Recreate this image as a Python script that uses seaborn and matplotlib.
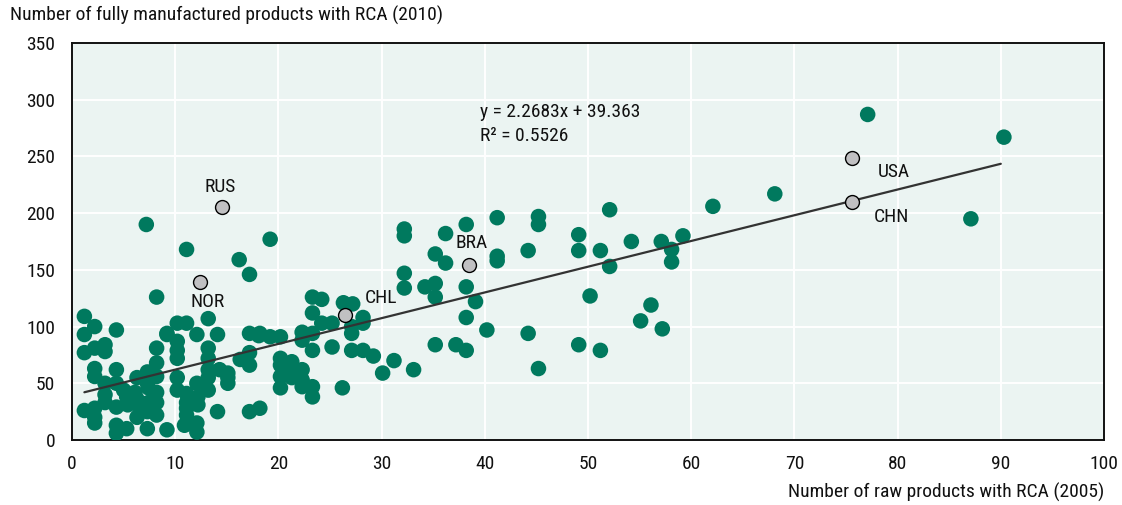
import matplotlib
matplotlib.use("Agg")
import matplotlib.pyplot as plt
from matplotlib import font_manager
import numpy as np
import pandas as pd
import seaborn as sns

# Raw products with RCA in 2005 (x) vs fully manufactured products with RCA in 2010 (y)
raw_2005 = [
    1.2, 2.2, 1.2, 4.3, 3.2, 2.2, 1.2, 3.2, 2.2, 2.2, 4.3, 3.2, 1.2, 2.2, 2.2, 3.2,
    4.3, 4.3, 4.3, 2.2, 4.3, 3.2,
    5.3, 7.3, 9.2, 8.2, 8.2, 9.2, 7.3, 6.3, 5.0, 6.1, 7.4, 8.2, 5.4, 6.4, 7.4, 8.2,
    8.2, 7.2, 8.2, 5.3, 6.3, 7.3, 6.3, 7.3, 8.2, 9.2,
    10.2, 11.1, 13.2, 12.1, 14.1, 10.2, 10.2, 10.2, 13.2, 13.2, 14.3, 13.2, 13.2,
    12.1, 10.2, 10.2, 11.1, 11.1, 11.1, 12.1, 12.1, 13.2, 14.1, 10.9, 12.2, 11.1,
    11.1, 12.2,
    15.1, 15.1, 16.3, 17.2, 18.2, 19.2, 17.2, 17.2, 17.2, 18.2, 16.2, 17.2, 19.2,
    18.1, 15.1,
    20.2, 22.3, 23.3, 22.3, 23.3, 25.2, 27.1, 28.2, 29.2, 30.1, 20.2, 20.2, 21.3,
    21.3, 22.3, 20.2, 20.2, 21.3, 22.3, 22.3, 23.3, 23.3, 26.2, 23.3, 24.2, 26.3,
    27.2, 23.3, 24.2, 25.2, 28.2, 28.2, 27.1, 27.1,
    31.2, 33.1, 32.2, 32.2, 32.2, 32.2, 34.2, 35.2, 35.2, 35.2, 35.2, 36.2, 36.2,
    37.2, 38.2, 38.2, 38.2, 38.2, 39.1, 40.2, 41.2, 41.2, 41.2, 44.2, 44.2, 45.2,
    45.2, 45.2, 49.1, 49.1, 49.1, 50.2, 51.2, 51.2, 52.1, 52.1, 54.2, 55.1, 56.1,
    57.1, 57.2, 58.1, 58.1, 59.2, 62.1, 68.1, 77.1, 87.1, 90.3,
]
manuf_2010 = [
    109, 100, 93, 97, 84, 81, 77, 78, 63, 56, 62, 50, 26, 28, 15, 33,
    29, 13, 6, 20, 50, 40,
    10, 10, 9, 81, 68, 94, 60, 55, 44, 42, 46, 42, 31, 31, 33, 33,
    22, 190, 126, 38, 36, 25, 20, 50, 56, 93,
    103, 103, 107, 93, 93, 87, 79, 72, 81, 72, 62, 62, 55,
    50, 55, 44, 41, 33, 22, 15, 7, 44, 25, 13, 31, 168,
    28, 38,
    59, 50, 71, 94, 94, 91, 77, 66, 25, 28, 159, 146, 177,
    92, 55,
    91, 95, 94, 88, 79, 82, 79, 79, 74, 59, 72, 66, 69,
    62, 62, 56, 46, 55, 53, 47, 47, 38, 46, 126, 124, 121,
    120, 112, 103, 103, 108, 103, 94, 100,
    70, 62, 186, 180, 147, 134, 135, 164, 138, 126, 84, 182, 156,
    84, 190, 135, 108, 79, 122, 97, 196, 162, 158, 167, 94, 197,
    190, 63, 181, 167, 84, 127, 167, 79, 203, 153, 175, 105, 119,
    175, 98, 168, 157, 180, 206, 217, 287, 195, 267,
]

# Highlighted economies
country_codes = ["RUS", "NOR", "CHL", "BRA", "USA", "CHN"]
country_raw = [14.5, 12.4, 26.5, 38.5, 75.6, 75.6]
country_manuf = [205, 139, 110, 154, 249, 210]
label_dx = [-0.1, 0.7, 3.4, 0.2, 4.0, 3.8]
label_dy = [18, -17, 15, 20, -13, -13]

# Linear fit reported on the chart
slope = 2.2683
intercept = 39.363
r_squared = 0.5526

x_ticks = list(range(0, 101, 10))
y_ticks = list(range(0, 351, 50))

GREEN = "#00795e"
BG = "#ebf4f2"
FS = 14

sns.set_theme(style="white")
available = {f.name for f in font_manager.fontManager.ttflist}
family = [f for f in ["Liberation Sans Narrow", "Roboto Condensed", "Liberation Sans"]
          if f in available] + ["DejaVu Sans"]
plt.rcParams["font.family"] = family

fig = plt.figure(figsize=(11.22, 5.05), dpi=100)
ax = fig.add_axes([72 / 1122, 1 - 440 / 505, (1104 - 72) / 1122, (440 - 43) / 505])
ax.set_facecolor(BG)

df = pd.DataFrame({"raw": raw_2005, "manuf": manuf_2010})
sns.scatterplot(data=df, x="raw", y="manuf", ax=ax, color=GREEN, s=125,
                edgecolor="none", linewidth=0, zorder=3)

all_x = np.array(raw_2005 + country_raw)
fit_x = np.array([all_x.min(), all_x.max() - 0.3])
fit_df = pd.DataFrame({"x": fit_x, "y": slope * fit_x + intercept})
sns.lineplot(data=fit_df, x="x", y="y", ax=ax, color="#333333", linewidth=1.6,
             zorder=4)

cdf = pd.DataFrame({"raw": country_raw, "manuf": country_manuf})
sns.scatterplot(data=cdf, x="raw", y="manuf", ax=ax, color="#c0c0c2", s=100,
                edgecolor="black", linewidth=1.0, zorder=5)

for code, cx, cy, dx, dy in zip(country_codes, country_raw, country_manuf,
                                label_dx, label_dy):
    ax.text(cx + dx, cy + dy, code, ha="center", va="center", fontsize=FS,
            color="#111111", zorder=6)

ax.text(39.5, 289, f"y = {slope}x + {intercept}", ha="left", va="center",
        fontsize=FS, color="#111111")
ax.text(39.5, 268, f"R² = {r_squared}", ha="left", va="center",
        fontsize=FS, color="#111111")

ax.set_xlim(0, 100)
ax.set_ylim(0, 350)
ax.set_xticks(x_ticks)
ax.set_yticks(y_ticks)
ax.grid(True, color="white", linewidth=1.4)
ax.set_axisbelow(True)
ax.tick_params(axis="both", direction="in", length=5, width=1, color="#222222",
               labelsize=FS, labelcolor="#111111")
ax.tick_params(axis="x", pad=11)
ax.tick_params(axis="y", pad=12)
for sp in ax.spines.values():
    sp.set_visible(True)
    sp.set_color("#111111")
    sp.set_linewidth(1.4)

ax.set_xlabel("")
ax.set_ylabel("")
fig.text(10 / 1122, 1 - 15 / 505, "Number of fully manufactured products with RCA (2010)",
         ha="left", va="center", fontsize=FS, color="#111111")
fig.text(1104 / 1122, 1 - 492 / 505, "Number of raw products with RCA (2005)",
         ha="right", va="center", fontsize=FS, color="#111111")

fig.savefig("out.png", dpi=100)
